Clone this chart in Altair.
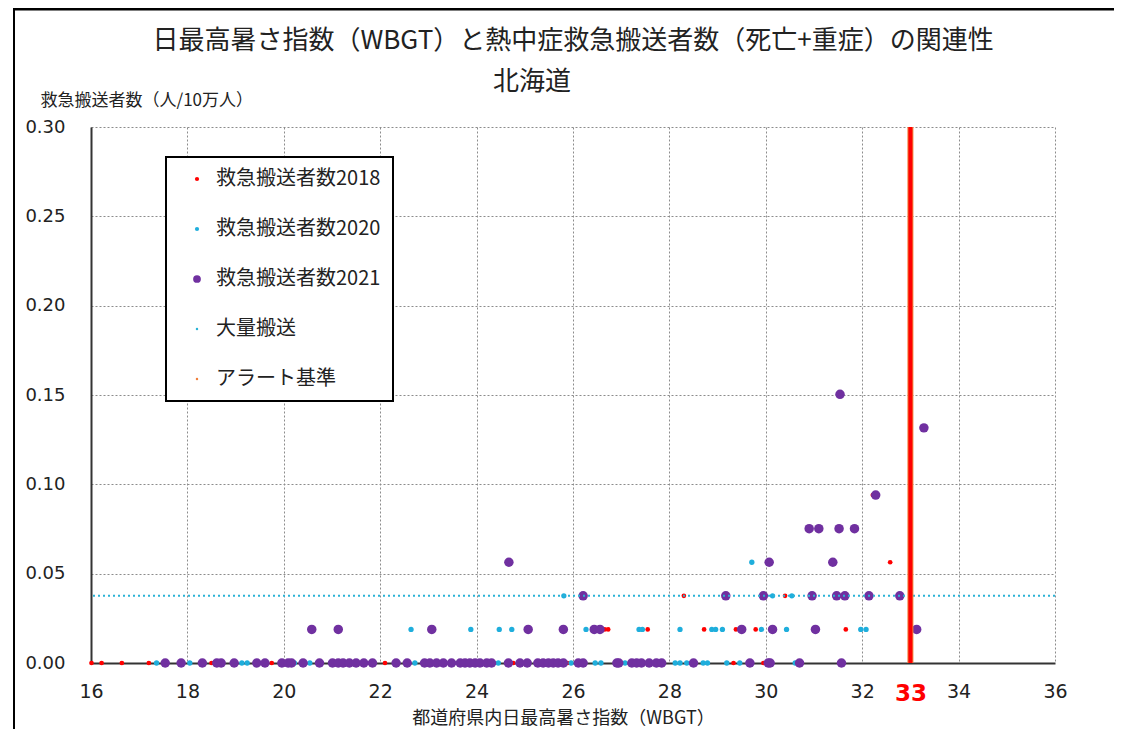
import altair as alt
import pandas as pd

TITLE = "日最高暑さ指数（WBGT）と熱中症救急搬送者数（死亡+重症）の関連性"
SUBTITLE = "北海道"
X_TITLE = "都道府県内日最高暑さ指数（WBGT）"
Y_TITLE = "救急搬送者数（人/10万人）"

SERIES = ["救急搬送者数2018", "救急搬送者数2020", "救急搬送者数2021", "大量搬送", "アラート基準"]
COLORS = ["#FF0000", "#1FAEDC", "#7030A0", "#2BB3D6", "#F0803C"]
POINT_SIZES = [22, 28, 90]

X_TICKS = [16, 18, 20, 22, 24, 26, 28, 30, 32, 34, 36, 33]
Y_TICKS = [0.0, 0.05, 0.10, 0.15, 0.20, 0.25, 0.30]

LARGE_TRANSPORT = [0.0376]
ALERT_WBGT = [33]

# 2018 (red)
S2018_RATE = [0.0, 0.0188, 0.0376, 0.0564, 0.0940]
S2018_WBGT = [
    [16.01, 16.22, 16.64, 17.20, 18.50, 19.75, 22.10, 24.76, 25.89, 29.33, 29.95],
    [26.66, 26.73, 27.55, 28.72, 29.38, 29.79, 31.66],
    [28.30, 30.40],
    [32.58],
    [32.22],
]

# 2020 (cyan)
S2020_RATE = [0.0, 0.0188, 0.0376, 0.0564]
S2020_WBGT = [
    [17.36, 18.05, 19.13, 19.24, 20.22, 20.54, 22.72, 24.45, 25.96, 26.46, 26.58,
     27.08, 28.12, 28.22, 28.36, 28.70, 28.79, 29.19, 29.46, 30.61],
    [22.64, 23.88, 24.47, 24.73, 26.27, 27.37, 27.44, 28.22, 28.88, 28.96, 29.10,
     29.91, 30.43, 31.97, 32.08],
    [25.81, 30.14, 30.54],
    [29.71],
]

# 2021 (purple)
S2021_RATE = [0.0, 0.0188, 0.0376, 0.0564, 0.0752, 0.0940, 0.1316, 0.1504]
S2021_WBGT = [
    [17.54, 17.87, 18.31, 18.61, 18.70, 18.97, 19.44, 19.61, 19.96, 20.09,
     20.16, 20.40, 20.74, 21.01, 21.13, 21.23, 21.36, 21.50, 21.66, 21.84,
     22.33, 22.56, 22.92, 23.03, 23.17, 23.31, 23.48, 23.66, 23.76, 23.86,
     23.97, 24.07, 24.21, 24.31, 24.66, 24.90, 25.05, 25.27, 25.38, 25.49,
     25.59, 25.69, 25.80, 26.11, 26.21, 26.91, 26.95, 27.22, 27.32, 27.42,
     27.58, 27.73, 27.84, 28.50, 29.67, 30.05, 30.09, 30.70, 31.57],
    [20.58, 21.13, 23.07, 25.07, 25.80, 26.44, 26.56, 29.50, 30.14, 31.03, 33.13],
    [26.21, 29.17, 29.95, 30.96, 31.47, 31.64, 32.14, 32.78],
    [24.67, 30.07, 31.39],
    [30.90, 31.10, 31.52, 31.84],
    [32.28],
    [33.28],
    [31.54],
]

rows = []
for name, size, rates, groups in [
    (SERIES[0], POINT_SIZES[0], S2018_RATE, S2018_WBGT),
    (SERIES[1], POINT_SIZES[1], S2020_RATE, S2020_WBGT),
    (SERIES[2], POINT_SIZES[2], S2021_RATE, S2021_WBGT),
]:
    for r, xs in zip(rates, groups):
        for xv in xs:
            rows.append({"wbgt": xv, "rate": r, "series": name, "sz": size})
df = pd.DataFrame(rows)
df["idx"] = range(len(df))

FONT = "Noto Sans CJK JP"

x_enc = alt.X(
    "wbgt:Q",
    scale=alt.Scale(domain=[16, 36], nice=False, zero=False),
    axis=alt.Axis(
        values=X_TICKS,
        format="d",
        title=X_TITLE,
        titleFont=FONT,
        titleFontSize=18,
        titleFontWeight="normal",
        titleColor="#222222",
        titlePadding=4,
        titleX=472,
        labelPadding=19,
        labelFlush=False,
        labelColor={"condition": {"test": "datum.value == 33", "value": "#FF0000"}, "value": "#222222"},
        labelFontSize={"condition": {"test": "datum.value == 33", "value": 23}, "value": 19},
        labelFontWeight={"condition": {"test": "datum.value == 33", "value": "bold"}, "value": "normal"},
    ),
)
y_enc = alt.Y(
    "rate:Q",
    scale=alt.Scale(domain=[0, 0.3], nice=False, zero=True),
    axis=alt.Axis(
        values=Y_TICKS,
        format=".2f",
        title=Y_TITLE,
        titleFont=FONT,
        titleFontSize=17,
        titleFontWeight="normal",
        titleColor="#222222",
        titleAngle=0,
        titleAlign="left",
        titleBaseline="middle",
        titleX=-51,
        titleY=-27,
        labelPadding=26,
        labelFlush=False,
        labelColor="#222222",
        labelFontSize=18,
    ),
)

size_expr = (
    "datum.value == '救急搬送者数2021' ? 60 : "
    "(datum.value == '救急搬送者数2018' || datum.value == '救急搬送者数2020') ? 18 : 6"
)

points = alt.Chart(df).mark_circle(opacity=1).encode(
    x=x_enc,
    y=y_enc,
    color=alt.Color(
        "series:N",
        scale=alt.Scale(domain=SERIES, range=COLORS),
        legend=alt.Legend(
            title=None,
            orient="none",
            legendX=75,
            legendY=30,
            fillColor="white",
            strokeColor="black",
            padding=12,
            rowPadding=30,
            symbolOffset=9,
            labelOffset=9,
            labelFont=FONT,
            labelFontSize=20,
            labelColor="#222222",
            labelLimit=300,
            symbolType="circle",
            symbolStrokeWidth=0,
            symbolSize=alt.expr(size_expr),
        ),
    ),
    size=alt.Size("sz:Q", scale=None),
    order=alt.Order("idx:Q"),
)

large_rule = alt.Chart(pd.DataFrame({"rate": LARGE_TRANSPORT})).mark_rule(
    color="#2BB3D6", strokeWidth=2, strokeDash=[2, 3]
).encode(y="rate:Q")

alert_under = alt.Chart(pd.DataFrame({"wbgt": ALERT_WBGT})).mark_rule(
    color="#F0803C", strokeWidth=6
).encode(x="wbgt:Q")
alert_rule = alt.Chart(pd.DataFrame({"wbgt": ALERT_WBGT})).mark_rule(
    color="#FF0000", strokeWidth=4
).encode(x="wbgt:Q")

subtitle = alt.Chart(pd.DataFrame({"t": [SUBTITLE]})).mark_text(
    font=FONT, fontSize=26, color="#222222", align="center", baseline="middle"
).encode(text="t:N", x=alt.value(441), y=alt.value(-45))

frame_left = alt.Chart(pd.DataFrame({"t": [0]})).mark_rule(color="black", strokeWidth=2).encode(
    x=alt.value(-77), y=alt.value(-119), y2=alt.value(620)
)
frame_top = alt.Chart(pd.DataFrame({"t": [0]})).mark_rule(color="black", strokeWidth=3).encode(
    x=alt.value(-78), x2=alt.value(1040), y=alt.value(-118)
)

chart = alt.layer(
    points, large_rule, alert_under, alert_rule, subtitle, frame_left, frame_top
).properties(
    width=964,
    height=536,
    padding={"left": 83, "top": 119, "right": 59, "bottom": 66},
    autosize=alt.AutoSizeParams(type="none"),
    title=alt.TitleParams(
        text=TITLE,
        font=FONT,
        fontSize=26,
        fontWeight="normal",
        color="#222222",
        anchor="middle",
        offset=-47,
    ),
).configure_view(
    strokeOpacity=0
).configure_legend(
    strokeWidth=2
).configure_axis(
    grid=True,
    gridColor="#8c8c8c",
    gridDash=[2, 2],
    gridWidth=1,
    domainColor="#333333",
    domainWidth=2,
    ticks=False,
    labelFont="DejaVu Sans",
)

chart.save("out.html", embed_options={"renderer": "svg", "actions": False})
